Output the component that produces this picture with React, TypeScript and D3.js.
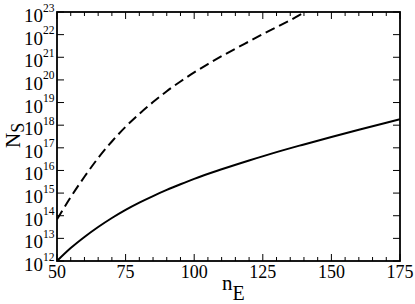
import React from "react";
import * as d3 from "d3";

// n_E values and log10(N_S)
const solidNE = [50, 55, 60, 65, 70, 75, 80, 85, 90, 95, 100, 110, 120, 130, 140, 150, 160, 170, 175];
const solidExp = [12.0, 12.57, 13.06, 13.5, 13.9, 14.26, 14.58, 14.87, 15.14, 15.39, 15.63, 16.05, 16.44, 16.81, 17.15, 17.48, 17.8, 18.11, 18.26];

const dashedNE = [50, 55, 60, 65, 70, 75, 80, 85, 90, 95, 100, 105, 110, 115, 120, 125, 130, 135, 140, 145];
const dashedExp = [13.84, 14.82, 15.72, 16.55, 17.28, 17.93, 18.5, 19.02, 19.5, 19.93, 20.33, 20.7, 21.05, 21.38, 21.7, 22.02, 22.33, 22.64, 22.97, 23.27];

const xTicks = [50, 75, 100, 125, 150, 175];
const yExps = [12, 13, 14, 15, 16, 17, 18, 19, 20, 21, 22, 23];

const width = 415;
const height = 304;
const margin = { top: 12, left: 57, right: 15, bottom: 43 };
const iw = width - margin.left - margin.right;
const ih = height - margin.top - margin.bottom;
const serif = { fontFamily: "Liberation Serif" };

const App = () => {
  const x = d3.scaleLinear().domain([50, 175]).range([0, iw]);
  const y = d3.scaleLog().domain([1e12, 1e23]).range([ih, 0]);

  const line = d3.line<[number, number]>()
    .x((d) => x(d[0]))
    .y((d) => y(Math.pow(10, d[1])))
    .curve(d3.curveMonotoneX);

  const solid = solidNE.map((v, i) => [v, solidExp[i]] as [number, number]);
  const dashed = dashedNE.map((v, i) => [v, dashedExp[i]] as [number, number]);
  const minor = d3.range(50, 176, 5).filter((v) => v % 25 !== 0);

  return (
    <svg width={width} height={height}
      style={{ position: "absolute", left: 0, top: 0, background: "#fff" }}>
      <defs>
        <clipPath id="plotclip">
          <rect width={iw} height={ih} />
        </clipPath>
      </defs>
      <g transform={`translate(${margin.left},${margin.top})`}>
        <path d={line(dashed) || ""} clipPath="url(#plotclip)" fill="none"
          stroke="#000" strokeWidth={2} strokeDasharray="10,5" />
        <path d={line(solid) || ""} clipPath="url(#plotclip)" fill="none"
          stroke="#000" strokeWidth={2} />

        {/* ticks inside the frame */}
        {xTicks.map((t) => (
          <g key={"xt" + t}>
            <line x1={x(t)} x2={x(t)} y1={ih} y2={ih - 7} stroke="#000" />
            <line x1={x(t)} x2={x(t)} y1={0} y2={7} stroke="#000" />
          </g>
        ))}
        {minor.map((t) => (
          <g key={"xm" + t}>
            <line x1={x(t)} x2={x(t)} y1={ih} y2={ih - 4} stroke="#000" />
            <line x1={x(t)} x2={x(t)} y1={0} y2={4} stroke="#000" />
          </g>
        ))}
        {yExps.map((e) => {
          const py = y(Math.pow(10, e));
          return (
            <g key={"yt" + e}>
              <line x1={0} x2={7} y1={py} y2={py} stroke="#000" />
              <line x1={iw} x2={iw - 7} y1={py} y2={py} stroke="#000" />
            </g>
          );
        })}
        <rect width={iw} height={ih} fill="none" stroke="#000" strokeWidth={1.8} />

        {xTicks.map((t) => (
          <text key={"xl" + t} x={x(t)} y={ih + 17} textAnchor="middle"
            style={{ ...serif, fontSize: "18px" }}>{t}</text>
        ))}
        {yExps.map((e) => {
          const py = y(Math.pow(10, e));
          return (
            <g key={"yl" + e}>
              <text x={-14} y={py + 10} textAnchor="end"
                style={{ ...serif, fontSize: "19px" }}>10</text>
              <text x={-14} y={py - 0.5} style={{ ...serif, fontSize: "11.5px" }}>{e}</text>
            </g>
          );
        })}
      </g>

      <text x={222} y={290} style={{ ...serif, fontSize: "21px" }}>
        n<tspan dy={10} style={{ fontSize: "20px" }}>E</tspan>
      </text>
      <text transform="translate(20,148) rotate(-90)" style={{ ...serif, fontSize: "21px" }}>
        N<tspan dy={4} style={{ fontSize: "18px" }}>S</tspan>
      </text>
    </svg>
  );
};

export default App;
